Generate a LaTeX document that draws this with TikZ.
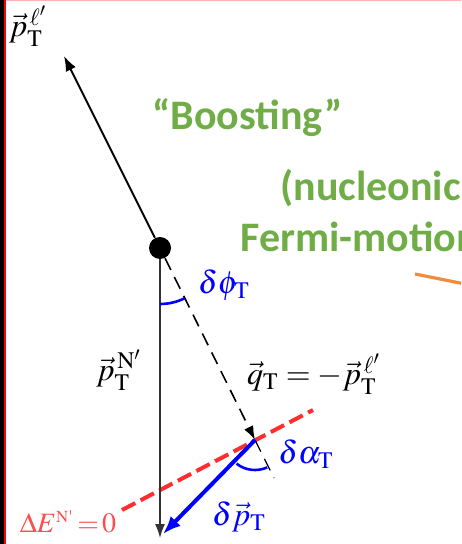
\documentclass[tikz,border=0pt]{standalone}
\usepackage{amsmath}
\usepackage{mathptmx}
\usepackage[no-math]{fontspec}
\newfontfamily\calibri{Carlito}
\usetikzlibrary{arrows.meta}
\definecolor{boostgreen}{RGB}{112,173,71}
\definecolor{fermiorange}{RGB}{240,140,60}
\definecolor{planered}{RGB}{255,45,45}

\begin{document}
\begin{tikzpicture}[x=0.5pt,y=-0.5pt,>=Latex,
  lbl/.style={font=\fontsize{16}{18}\selectfont,inner sep=0pt},
  ang/.style={blue,line width=1.3pt},
  boost/.style={boostgreen,font=\calibri\bfseries\fontsize{21}{24}\selectfont,inner sep=0pt,anchor=base west}]
\useasboundingbox (0,0) rectangle (461,544);
\clip (0,0) rectangle (461,544);
% ---- frame edges ----
\fill[black] (0,0) rectangle (4,544);
\fill[red] (4,0) rectangle (6,544);
\fill[red!30] (6,0) rectangle (461,1.5);
% ---- points ----
\node[circle,fill,minimum size=11pt,inner sep=0pt] (vtx) at (160,248) {};
\coordinate (lep) at (64,56);
\coordinate (nuc) at (160,538);
\coordinate (qt) at (255,440);
\coordinate (qend) at (274,478);
\coordinate (plA) at (122,510);
\coordinate (plB) at (313,410);
\coordinate (dpt) at (163,534);
% ---- Delta E = 0 plane ----
\draw[planered,line width=2pt,dash pattern=on 7.5pt off 3pt] (plA) -- (plB);
% ---- momenta ----
\draw[line width=0.9pt,-{Latex[length=7.5pt,width=5.5pt]}] (vtx) -- (lep);
\draw[black!80,line width=0.7pt,-{Latex[length=7pt,width=5pt]}] (vtx) -- (nuc);
\draw[line width=0.8pt,dash pattern=on 6.5pt off 4pt,-{Latex[length=7pt,width=5pt]}] (vtx) -- (qt);
\draw[line width=0.6pt,dash pattern=on 6.5pt off 4pt] (qt) -- (qend);
\draw[blue,line width=2pt,-{Latex[length=9pt,width=7pt]}] (qt) -- (dpt);
% ---- angles ----
\draw[ang] (vtx.center) ++(90:56) arc[start angle=90,end angle=64,radius=56];
\draw[ang] (qt) ++(66:30) arc[start angle=66,end angle=128,radius=30];
% ---- labels ----
\node[lbl] (ptlab) at (28,26) {$\vec{p}_{\mathrm{T}}^{\,\ell'}$};
\node[lbl] (pnlab) at (119,370) {$\vec{p}_{\mathrm{T}}^{\,\mathrm{N}'}$};
\node[lbl] (qtlab) at (314,374) {$\vec{q}_{\mathrm{T}}=-\vec{p}_{\mathrm{T}}^{\,\ell'}$};
\node[lbl,blue] (dphilab) at (224,285) {$\delta\phi_{\mathrm{T}}$};
\node[lbl,blue] (dalab) at (306,454) {$\delta\alpha_{\mathrm{T}}$};
\node[lbl,blue] (dplab) at (239,517) {$\delta\vec{p}_{\mathrm{T}}$};
\node[lbl,planered!85,font=\fontsize{14}{16}\selectfont] (delab) at (68,522) {$\Delta E^{\scriptscriptstyle\mathrm{N}\text{\textquotesingle}}\,{=}\,0$};
% ---- green remarks ----
\node[boost] (boostlab) at (152,130) {“Boosting”};
\node[boost] (nuclab) at (280,201) {(nucleonic};
\node[boost] (fermilab) at (240,252) {Fermi-motion};
\coordinate (orA) at (415,274);
\coordinate (orB) at (475,286);
\draw[fermiorange,line width=1.6pt] (orA) -- (orB);
\end{tikzpicture}
\end{document}
